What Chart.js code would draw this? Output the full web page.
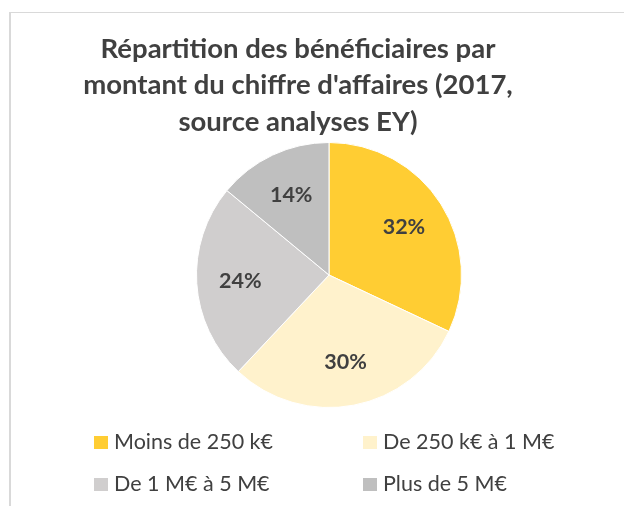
<!doctype html>
<meta charset="utf-8">
<style>
    body { margin: 0; background: #fff; }
</style>
<script src="https://cdn.jsdelivr.net/npm/chart.js@4.4.8/dist/chart.umd.min.js"></script>

<canvas id="chart" width="624" height="506"></canvas>

<script>
    const categories = ["Moins de 250 k€", "De 250 k€ à 1 M€", "De 1 M€ à 5 M€", "Plus de 5 M€"];
    const shares = [32, 30, 24, 14];
    const colours = ["#FFCD33", "#FFF2CC", "#D0CECE", "#BFBFBF"];
    const titleLines = ["Répartition des bénéficiaires par", "montant du chiffre d'affaires (2017,", "source analyses EY)"];

    const textColour = "#404040";
    const fontFamily = "Lato, 'Open Sans', sans-serif";

    // frame, title, slice labels and the 2x2 legend, drawn by hand
    const decorations = {
        id: "decorations",
        beforeDraw(chart) {
            const ctx = chart.ctx;
            ctx.save();
            ctx.fillStyle = "#D9D9D9";
            ctx.fillRect(9, 12, 2, chart.height - 12);
            ctx.fillRect(9, 12, chart.width - 9, 1);
            ctx.restore();
        },
        afterDraw(chart) {
            const ctx = chart.ctx;
            ctx.save();
            ctx.fillStyle = textColour;
            ctx.textAlign = "center";
            ctx.textBaseline = "middle";

            ctx.font = "bold 27.5px " + fontFamily;
            titleLines.forEach((line, i) => ctx.fillText(line, 298, 49 + i * 36.5));

            ctx.font = "bold 21.5px " + fontFamily;
            const meta = chart.getDatasetMeta(0);
            meta.data.forEach((arc, i) => {
                const mid = (arc.startAngle + arc.endAngle) / 2;
                const r = arc.outerRadius * 0.67;
                ctx.fillText(shares[i] + "%", arc.x + Math.cos(mid) * r, arc.y + Math.sin(mid) * r);
            });

            ctx.textAlign = "left";
            ctx.font = "21.5px " + fontFamily;
            const cols = [94, 363];
            const rows = [442.5, 484.5];
            categories.forEach((label, i) => {
                const x = cols[i % 2];
                const y = rows[Math.floor(i / 2)];
                ctx.fillStyle = colours[i];
                ctx.fillRect(x, y - 6.5, 14, 13);
                ctx.fillStyle = textColour;
                ctx.fillText(label, x + 20, y);
            });
            ctx.restore();
        }
    };

    new Chart(document.getElementById("chart"), {
        type: "pie",
        plugins: [decorations],
        data: {
            labels: categories,
            datasets: [{
                data: shares,
                backgroundColor: colours,
                borderColor: "#ffffff",
                borderWidth: 1
            }]
        },
        options: {
            responsive: false,
            animation: false,
            layout: {
                padding: {left: 196, right: 162, top: 142, bottom: 98}
            },
            plugins: {
                legend: {display: false},
                tooltip: {enabled: false}
            }
        }
    });
</script>
